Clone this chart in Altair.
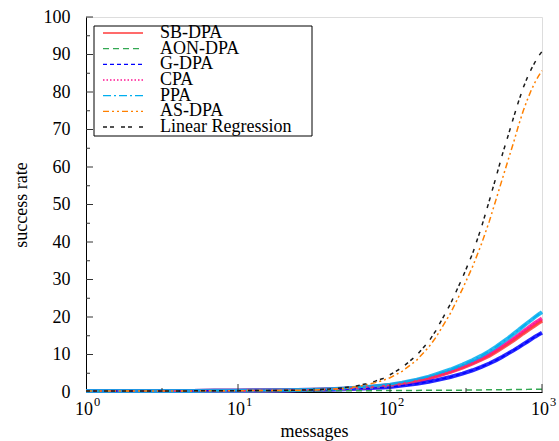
import altair as alt
import pandas as pd

messages = [1, 2, 3, 5, 7, 10, 15, 20, 30, 40, 50, 60, 70, 80, 90, 100, 120, 150, 180, 200,
            250, 300, 350, 400, 450, 500, 550, 600, 650, 700, 750, 800, 850, 900, 950, 1000]

sb_dpa = [0.3, 0.3, 0.3, 0.3, 0.35, 0.35, 0.4, 0.45, 0.55, 0.7, 0.85, 1.05, 1.2, 1.4, 1.6, 1.75, 2.2, 2.95, 3.65, 4.2,
          5.35, 6.5, 7.6, 8.65, 9.7, 10.8, 11.85, 12.85, 13.8, 14.7, 15.6, 16.4, 17.1, 17.8, 18.45, 19.0]
aon_dpa = [0.3, 0.3, 0.3, 0.3, 0.3, 0.3, 0.3, 0.3, 0.32, 0.33, 0.34, 0.35, 0.36, 0.37, 0.38, 0.4, 0.41, 0.43, 0.44, 0.45,
           0.48, 0.5, 0.53, 0.55, 0.58, 0.6, 0.61, 0.62, 0.64, 0.65, 0.68, 0.7, 0.71, 0.72, 0.74, 0.75]
g_dpa = [0.3, 0.3, 0.3, 0.3, 0.33, 0.35, 0.38, 0.42, 0.5, 0.6, 0.72, 0.85, 0.98, 1.1, 1.22, 1.35, 1.7, 2.2, 2.75, 3.1,
         4.0, 4.9, 5.8, 6.7, 7.6, 8.5, 9.4, 10.3, 11.1, 11.9, 12.7, 13.4, 14.1, 14.75, 15.3, 15.8]
cpa = [0.3, 0.3, 0.3, 0.3, 0.35, 0.35, 0.4, 0.45, 0.57, 0.72, 0.88, 1.08, 1.25, 1.45, 1.65, 1.8, 2.3, 3.05, 3.8, 4.3,
       5.5, 6.7, 7.8, 8.9, 10.0, 11.1, 12.2, 13.25, 14.25, 15.2, 16.1, 16.9, 17.7, 18.4, 19.05, 19.6]
ppa = [0.3, 0.3, 0.3, 0.3, 0.35, 0.35, 0.4, 0.45, 0.6, 0.75, 0.95, 1.15, 1.35, 1.55, 1.75, 1.95, 2.5, 3.3, 4.1, 4.7,
       6.0, 7.3, 8.5, 9.7, 10.9, 12.1, 13.3, 14.4, 15.5, 16.5, 17.5, 18.4, 19.2, 20.0, 20.7, 21.3]
as_dpa = [0.3, 0.3, 0.3, 0.3, 0.35, 0.35, 0.4, 0.45, 0.5, 0.7, 1.0, 1.4, 1.9, 2.5, 3.1, 3.8, 5.5, 8.5, 12.0, 14.5,
          21.0, 27.5, 33.5, 39.5, 45.5, 51.5, 57.0, 62.0, 66.5, 71.0, 74.8, 77.9, 80.5, 82.6, 84.3, 85.7]
linear_regression = [0.3, 0.3, 0.3, 0.3, 0.35, 0.35, 0.4, 0.45, 0.55, 0.8, 1.15, 1.6, 2.2, 2.9, 3.6, 4.6, 6.5, 9.8, 13.5, 16.3,
                     23.5, 30.5, 37.0, 44.0, 51.0, 57.5, 63.5, 68.5, 73.2, 77.4, 81.0, 83.8, 86.1, 88.0, 89.6, 90.8]

series_names = ["SB-DPA", "AON-DPA", "G-DPA", "CPA", "PPA", "AS-DPA", "Linear Regression"]
series_values = [sb_dpa, aon_dpa, g_dpa, cpa, ppa, as_dpa, linear_regression]
series_colors = ["#ff3b3b", "#33a852", "#0000ff", "#ff1493", "#00aeef", "#ff8000", "#1a1a1a"]
series_dashes = [[1, 0], [6, 4], [4, 3], [1.5, 2], [8, 3, 2, 3], [6, 3, 2, 3, 2, 3], [4, 3, 4, 7]]
band_series = ["G-DPA", "SB-DPA", "CPA", "PPA"]

y_major = list(range(0, 101, 10))
y_minor = list(range(5, 100, 10))
x_major = [1, 10, 100, 1000]
x_major_exp = ["0", "1", "2", "3"]
x_minor = [10 ** 0.5, 10 ** 1.5, 10 ** 2.5]

rows = []
for name, vals in zip(series_names, series_values):
    for m, v in zip(messages, vals):
        rows.append({"messages": m, "rate": v, "series": name})
df = pd.DataFrame(rows)
legend_df = pd.DataFrame({"series": series_names, "idx": list(range(len(series_names)))})

W, H = 456, 375
FONT = "Liberation Serif"

xscale = alt.Scale(type="log", domain=[1, 1000], nice=False)
yscale = alt.Scale(domain=[0, 100], nice=False)
color_scale = alt.Scale(domain=series_names, range=series_colors)
dash_scale = alt.Scale(domain=series_names, range=series_dashes)

x_axis = alt.Axis(labels=False, ticks=False, grid=False, domainColor="black",
                  title="messages", titleFont=FONT, titleFontSize=18,
                  titleFontWeight="normal", titleColor="black", titlePadding=30)
y_axis = alt.Axis(values=y_major, ticks=False, grid=False, domainColor="black",
                  labelFont=FONT, labelFontSize=18, labelColor="black", labelPadding=16,
                  title="success rate", titleFont=FONT, titleFontSize=18,
                  titleFontWeight="normal", titleColor="black", titlePadding=13)

X = alt.X("messages:Q", scale=xscale, axis=x_axis, title="messages")
Y_axis = alt.Y("rate:Q", scale=yscale, axis=y_axis, title="success rate")
Y = alt.Y("rate:Q", scale=yscale, axis=None)
COLOR = alt.Color("series:N", scale=color_scale, sort=series_names, legend=None)
DASH = alt.StrokeDash("series:N", scale=dash_scale, sort=series_names, legend=None)

base = alt.Chart(df)

band = base.transform_filter(
    alt.FieldOneOfPredicate(field="series", oneOf=band_series)
).mark_line(strokeWidth=4, opacity=0.85).encode(
    x=X, y=Y, color=COLOR, detail="series:N", order=alt.Order("messages:Q"),
)

lines = base.mark_line(strokeWidth=1.5).encode(
    x=X, y=Y_axis, color=COLOR, strokeDash=DASH, order=alt.Order("messages:Q"),
)

ytick_major = alt.Chart(pd.DataFrame({"rate": y_major[1:]})).mark_rule(color="#333", strokeWidth=1).encode(
    y=Y, x=alt.value(0), x2=alt.value(7))
ytick_minor = alt.Chart(pd.DataFrame({"rate": y_minor})).mark_rule(color="#333", strokeWidth=1).encode(
    y=Y, x=alt.value(0), x2=alt.value(4))
xtick_major = alt.Chart(pd.DataFrame({"messages": x_major[1:]})).mark_rule(color="#333", strokeWidth=1).encode(
    x=X, y=alt.value(H), y2=alt.value(H - 8))
xtick_minor = alt.Chart(pd.DataFrame({"messages": x_minor})).mark_rule(color="#333", strokeWidth=1).encode(
    x=X, y=alt.value(H), y2=alt.value(H - 4))

lab_df = pd.DataFrame({"messages": x_major, "e": x_major_exp})
xlab_base = alt.Chart(lab_df).mark_text(font=FONT, fontSize=18, color="black", dx=-2, baseline="middle").encode(
    x=X, y=alt.value(H + 18), text=alt.value("10"))
xlab_exp = alt.Chart(lab_df).mark_text(font=FONT, fontSize=12.5, color="black", dx=11, baseline="middle").encode(
    x=X, y=alt.value(H + 10), text="e:N")

# legend (inside the plot, top-left)
LEG_Y = alt.Y("idx:Q", scale=alt.Scale(domain=[0, 6], range=[16, 110], nice=False, zero=False), axis=None)
leg_box = alt.Chart(pd.DataFrame({"k": [0]})).mark_rect(fill="white", stroke="black", strokeWidth=1).encode(
    x=alt.value(8), x2=alt.value(226), y=alt.value(9), y2=alt.value(119))
leg_sym = alt.Chart(legend_df).mark_rule(strokeWidth=1.3).encode(
    y=LEG_Y, x=alt.value(17), x2=alt.value(57), color=COLOR, strokeDash=DASH)
leg_txt = alt.Chart(legend_df).mark_text(font=FONT, fontSize=18, color="black", align="left", baseline="middle").encode(
    y=LEG_Y, x=alt.value(74), text="series:N")

chart = alt.layer(band, lines, ytick_major, ytick_minor, xtick_major, xtick_minor, xlab_base, xlab_exp,
                  leg_box, leg_sym, leg_txt).resolve_scale(y="independent").properties(
    width=W, height=H,
    autosize=alt.AutoSizeParams(type="none"),
    padding={"left": 86, "top": 17, "right": 17, "bottom": 49},
).configure_view(stroke=None).configure(background="white")

chart.save("out.html", embed_options={"renderer": "svg", "actions": False})
